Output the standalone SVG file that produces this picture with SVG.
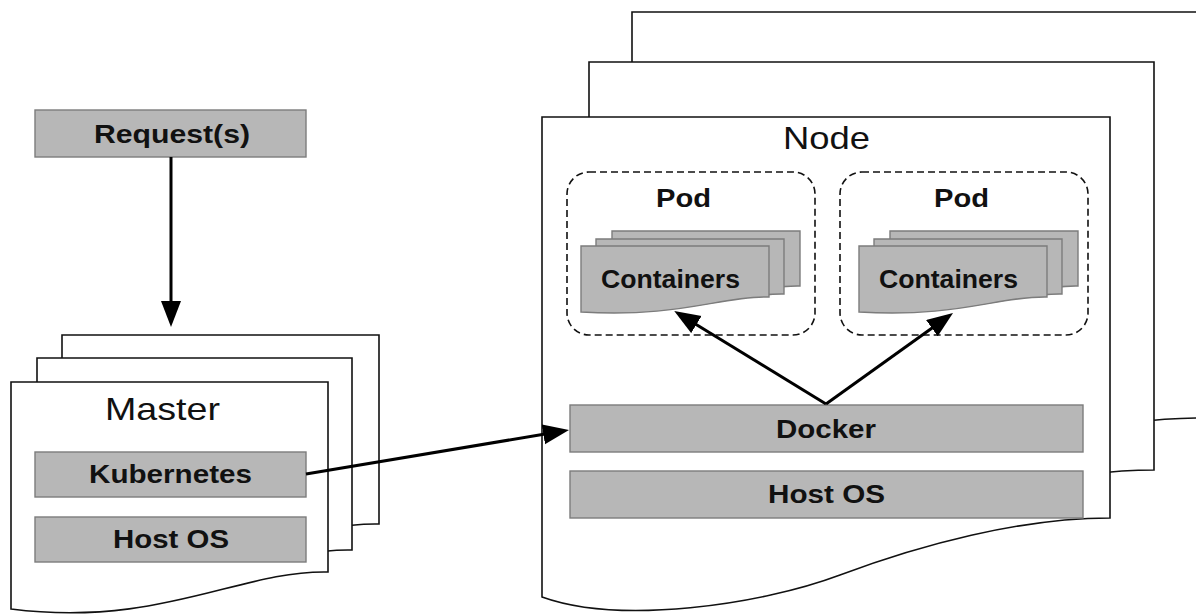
<svg xmlns="http://www.w3.org/2000/svg" width="1196" height="616" viewBox="0 0 1196 616">
<style>
.page{fill:#fff;stroke:#111;stroke-width:1.6}
.box{fill:#b7b7b7;stroke:#7c7c7c;stroke-width:1.4}
.ctr{fill:#b7b7b7;stroke:#7c7c7c;stroke-width:1.4}
.pod{fill:none;stroke:#111;stroke-width:1.6;stroke-dasharray:7 4}
.b{font-family:"Liberation Sans",Arial,sans-serif;font-weight:bold;font-size:25px;fill:#111}
.r{font-family:"Liberation Sans",Arial,sans-serif;font-size:32px;fill:#111}
.conn{fill:none;stroke:#000;stroke-width:3;marker-end:url(#ah)}
</style>
<defs>
<marker id="ah" markerUnits="userSpaceOnUse" markerWidth="28" markerHeight="22" refX="17" refY="10" orient="auto">
<path d="M0,0 L26,10 L0,20 Z" fill="#000"/>
</marker>
<g id="ctrstack">
<path class="ctr" d="M612,231 H800 V286 C751,285 711,307 612,301 Z"/>
<path class="ctr" d="M596,239 H784 V294 C735,293 695,315 596,309 Z"/>
<path class="ctr" d="M581,246 H769 V297 C720,296 680,318 581,312 Z"/>
</g>
</defs>

<g id="request">
<rect class="box" x="35" y="110" width="271" height="47"/>
<text class="b" x="94" y="143" textLength="156" lengthAdjust="spacingAndGlyphs">Request(s)</text>
</g>

<g id="master">
<path class="page" d="M62,335 H379 V524 C291,522 211,580 62,561 Z"/>
<path class="page" d="M37,358 H352 V550 C264,548 184,606 37,587 Z"/>
<path class="page" d="M11,382 H328 V572 C240,570 160,628 11,609 Z"/>
<text class="r" x="105" y="420" textLength="115" lengthAdjust="spacingAndGlyphs">Master</text>
</g>
<g id="kubernetes">
<rect class="box" x="35" y="452" width="271" height="45"/>
<text class="b" x="89" y="483" textLength="163" lengthAdjust="spacingAndGlyphs">Kubernetes</text>
</g>
<g id="master-hostos">
<rect class="box" x="35" y="517" width="271" height="45"/>
<text class="b" x="113" y="548" textLength="116" lengthAdjust="spacingAndGlyphs">Host OS</text>
</g>

<g id="node">
<path class="page" d="M632,12 H1200 V418 C1110,418 1010,445 930,475 C850,505 710,525 632,497 Z"/>
<path class="page" d="M589,62 H1154 V470 C1064,470 964,497 884,527 C804,557 664,577 589,549 Z"/>
<path class="page" d="M542,117 H1110 V518 C1020,518 920,545 840,575 C760,605 620,625 542,597 Z"/>
<text class="r" x="783" y="149" font-size="33" textLength="87" lengthAdjust="spacingAndGlyphs">Node</text>
</g>

<g id="pod1">
<rect class="pod" x="567" y="172" width="248" height="163" rx="22"/>
<text class="b" x="656" y="207" textLength="55" lengthAdjust="spacingAndGlyphs">Pod</text>
</g>
<g id="containers1">
<use href="#ctrstack"/>
<text class="b" x="601" y="288" font-size="24" textLength="139" lengthAdjust="spacingAndGlyphs">Containers</text>
</g>

<g id="pod2">
<rect class="pod" x="840" y="172" width="248" height="163" rx="22"/>
<text class="b" x="934" y="207" textLength="55" lengthAdjust="spacingAndGlyphs">Pod</text>
</g>
<g id="containers2">
<use href="#ctrstack" transform="translate(278,0)"/>
<text class="b" x="879" y="288" font-size="24" textLength="139" lengthAdjust="spacingAndGlyphs">Containers</text>
</g>

<g id="docker">
<rect class="box" x="570" y="405" width="513" height="47"/>
<text class="b" x="776" y="438" textLength="100" lengthAdjust="spacingAndGlyphs">Docker</text>
</g>
<g id="node-hostos">
<rect class="box" x="570" y="471" width="513" height="47"/>
<text class="b" x="768" y="503" textLength="117" lengthAdjust="spacingAndGlyphs">Host OS</text>
</g>

<g id="connectors">
<path class="conn" d="M171,157 L171,318"/>
<path class="conn" d="M306,474 L560.1,431.5"/>
<path class="conn" d="M826,404 L681.9,315.7"/>
<path class="conn" d="M826,404 L945.7,318.2"/>
</g>
</svg>
